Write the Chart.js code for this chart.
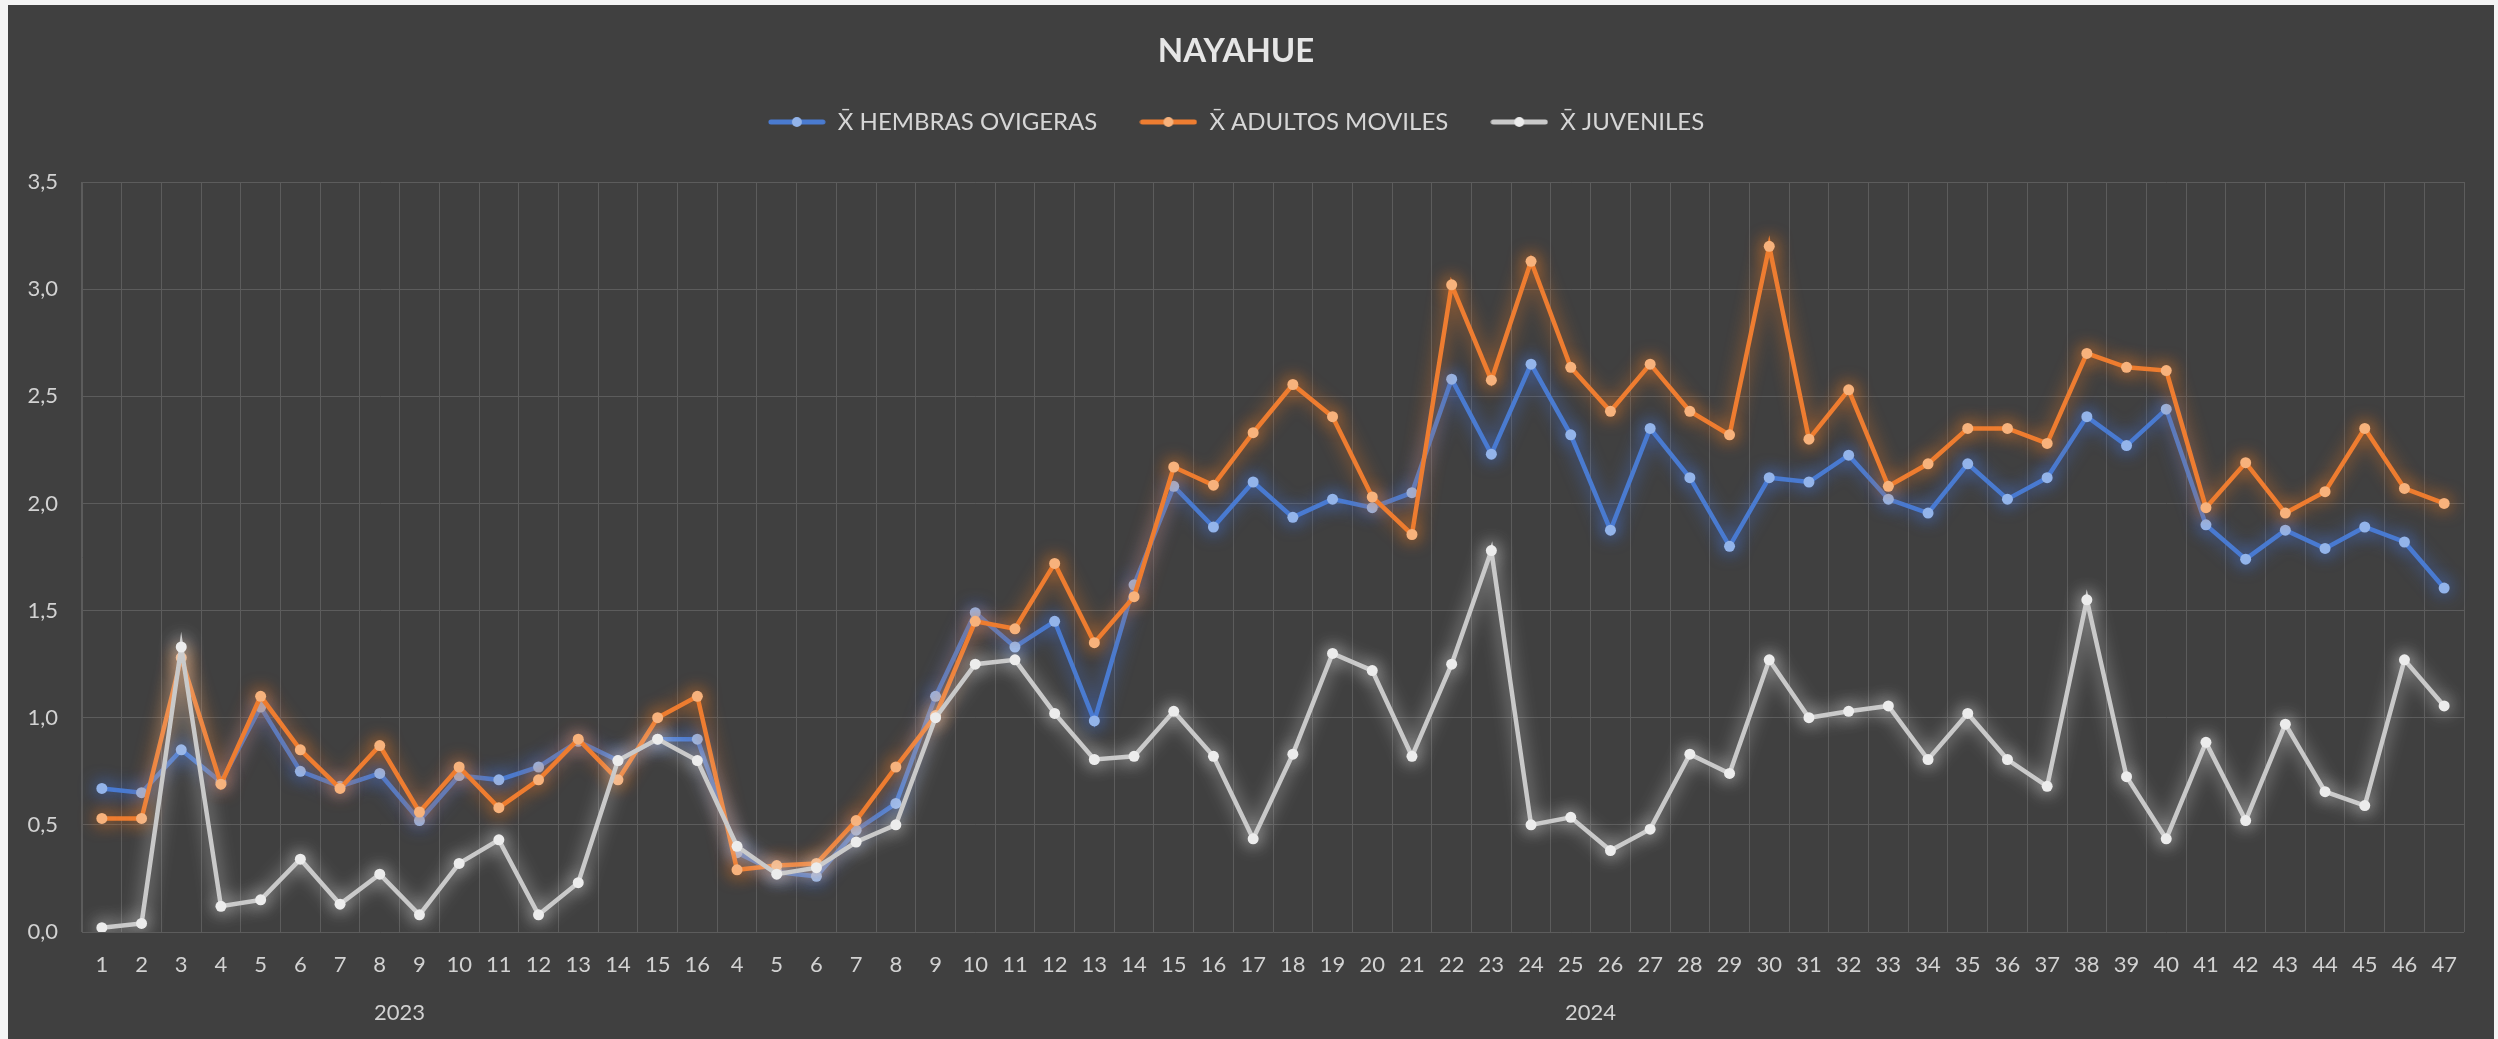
<!DOCTYPE html>
<html><head><meta charset="utf-8">
<script src="https://cdn.jsdelivr.net/npm/chart.js@4.4.1/dist/chart.umd.min.js"></script>
<style>
html,body{margin:0;padding:0;background:#f4f4f4;width:2498px;height:1039px;overflow:hidden}
#wrap{position:absolute;left:8px;top:5px;width:2486px;height:1034px;background:#404040}
</style></head><body><div id="wrap"><canvas id="c"></canvas></div>
<script>
const chartTitle = 'NAYAHUE';
const seriesNames = ['X\u0304 HEMBRAS OVIGERAS', 'X\u0304 ADULTOS MOVILES', 'X\u0304 JUVENILES'];
const years = ['2023', '2024'];
const weeks2023 = [1,2,3,4,5,6,7,8,9,10,11,12,13,14,15,16];
const weeks2024 = [4,5,6,7,8,9,10,11,12,13,14,15,16,17,18,19,20,21,22,23,24,25,26,27,28,29,30,31,32,33,34,35,36,37,38,39,40,41,42,43,44,45,46,47];

const hembras2023 = [0.67,0.65,0.85,0.70,1.05,0.75,0.68,0.74,0.52,0.73,0.71,0.77,0.89,0.80,0.90,0.90];
const hembras2024 = [0.37,0.28,0.26,0.475,0.60,1.10,1.49,1.33,1.45,0.985,1.62,2.08,1.89,2.10,1.935,2.02,1.98,2.05,2.58,2.23,2.65,2.32,1.875,2.35,2.12,1.80,2.12,2.10,2.225,2.02,1.955,2.185,2.02,2.12,2.405,2.27,2.44,1.90,1.74,1.875,1.79,1.89,1.82,1.605];

const adultos2023 = [0.53,0.53,1.28,0.69,1.10,0.85,0.67,0.87,0.56,0.77,0.58,0.71,0.90,0.71,1.00,1.10];
const adultos2024 = [0.29,0.31,0.32,0.52,0.77,1.01,1.45,1.415,1.72,1.35,1.565,2.17,2.085,2.33,2.555,2.405,2.03,1.855,3.02,2.575,3.13,2.635,2.43,2.65,2.43,2.32,3.20,2.30,2.53,2.08,2.185,2.35,2.35,2.28,2.70,2.635,2.62,1.98,2.19,1.955,2.055,2.35,2.07,2.00];

const juveniles2023 = [0.02,0.04,1.33,0.12,0.15,0.34,0.13,0.27,0.08,0.32,0.43,0.08,0.23,0.80,0.90,0.80];
const juveniles2024 = [0.40,0.27,0.30,0.42,0.50,1.00,1.25,1.27,1.02,0.805,0.82,1.03,0.82,0.435,0.83,1.30,1.22,0.82,1.25,1.78,0.50,0.535,0.38,0.48,0.83,0.74,1.27,1.00,1.03,1.055,0.805,1.02,0.805,0.68,1.55,0.725,0.435,0.885,0.52,0.97,0.655,0.59,1.27,1.055];

const yMin = 0, yMax = 3.5, yStep = 0.5;

const labels = weeks2023.concat(weeks2024).map(String);
const groupSizes = [weeks2023.length, weeks2024.length];

const lineColors = ['#4a7bd0', '#ee7d31', '#c9c9c9'];
const dotColors = ['#93b4ea', '#f7b27c', '#ececec'];
const glowColors = ['rgba(70,120,230,0.95)', 'rgba(245,125,35,0.95)', 'rgba(235,235,235,0.85)'];

function legendMark(line, dot) {
  const c = document.createElement('canvas');
  c.width = 58; c.height = 14;
  const x = c.getContext('2d');
  x.strokeStyle = line; x.lineWidth = 5; x.lineCap = 'round';
  x.beginPath(); x.moveTo(3, 7); x.lineTo(55, 7); x.stroke();
  x.fillStyle = dot; x.beginPath(); x.arc(29, 7, 5, 0, Math.PI * 2); x.fill();
  return c;
}
const marks = lineColors.map((c, i) => legendMark(c, dotColors[i]));

const glowPlugin = {
  id: 'glow',
  beforeDatasetDraw(chart, args) {
    const ctx = chart.ctx;
    ctx.save();
    ctx.shadowColor = glowColors[args.index];
    ctx.shadowBlur = 18;
  },
  afterDatasetDraw(chart) { chart.ctx.restore(); }
};

const legendSpace = {
  id: 'legendSpace',
  beforeLayout(chart) {
    const lg = chart.legend;
    if (lg && !lg._patched) {
      const orig = lg.fit;
      lg.fit = function () { orig.call(this); this.height += 38; };
      lg._patched = true;
    }
  }
};

const groupLabels = {
  id: 'groupLabels',
  afterDraw(chart) {
    const xs = chart.scales.x, ctx = chart.ctx;
    ctx.save();
    ctx.font = '22px Lato, "Open Sans", sans-serif';
    ctx.fillStyle = '#d2d2d2';
    ctx.textAlign = 'center';
    ctx.textBaseline = 'middle';
    let start = 0;
    years.forEach((y, i) => {
      const end = start + groupSizes[i] - 1;
      const cx = (xs.getPixelForValue(start) + xs.getPixelForValue(end)) / 2;
      ctx.fillText(y, cx, chart.chartArea.bottom + 81);
      start = end + 1;
    });
    ctx.restore();
  }
};

const mk = (i, data, order) => ({
  label: seriesNames[i],
  data,
  order,
  borderColor: lineColors[i],
  backgroundColor: dotColors[i],
  pointBackgroundColor: dotColors[i],
  pointBorderWidth: 0,
  pointRadius: 5.5,
  borderWidth: 4.5,
  tension: 0
});

Chart.defaults.font.family = 'Lato, "Open Sans", sans-serif';

new Chart(document.getElementById('c'), {
  type: 'line',
  data: {
    labels,
    datasets: [
      mk(0, hembras2023.concat(hembras2024), 2),
      mk(1, adultos2023.concat(adultos2024), 1),
      mk(2, juveniles2023.concat(juveniles2024), 0)
    ]
  },
  options: {
    responsive: true,
    maintainAspectRatio: false,
    animation: false,
    layout: { padding: { left: 0, right: 30, top: 0, bottom: 0 } },
    plugins: {
      title: {
        display: true, text: chartTitle, color: '#e6e6e6',
        font: { size: 33, weight: 'bold', lineHeight: 1 },
        padding: { top: 30, bottom: 0 }
      },
      legend: {
        display: true, position: 'top',
        labels: {
          color: '#d6d6d6', font: { size: 24 }, padding: 42,
          usePointStyle: true, pointStyleWidth: 58, boxHeight: 14,
          sort: (a, b) => a.datasetIndex - b.datasetIndex,
          generateLabels(chart) {
            const items = Chart.defaults.plugins.legend.labels.generateLabels(chart);
            items.forEach(it => { it.pointStyle = marks[it.datasetIndex]; it.fontColor = '#d6d6d6'; });
            return items;
          }
        }
      },
      tooltip: { enabled: false }
    },
    scales: {
      x: {
        offset: true,
        grid: { offset: true, color: '#5c5c5c', lineWidth: 1, drawTicks: false },
        border: { display: false },
        ticks: { color: '#d2d2d2', font: { size: 22 }, padding: 20, maxRotation: 0, autoSkip: false },
        afterFit(s) { s.height = 107; }
      },
      y: {
        min: yMin, max: yMax,
        grid: { color: '#5c5c5c', lineWidth: 1, drawTicks: false },
        border: { display: true, color: '#5c5c5c' },
        ticks: {
          stepSize: yStep, color: '#d2d2d2', font: { size: 22 }, padding: 24,
          callback: v => v.toFixed(1).replace('.', ',')
        },
        afterFit(s) { s.width = 74; }
      }
    }
  },
  plugins: [glowPlugin, legendSpace, groupLabels]
});
</script></body></html>
